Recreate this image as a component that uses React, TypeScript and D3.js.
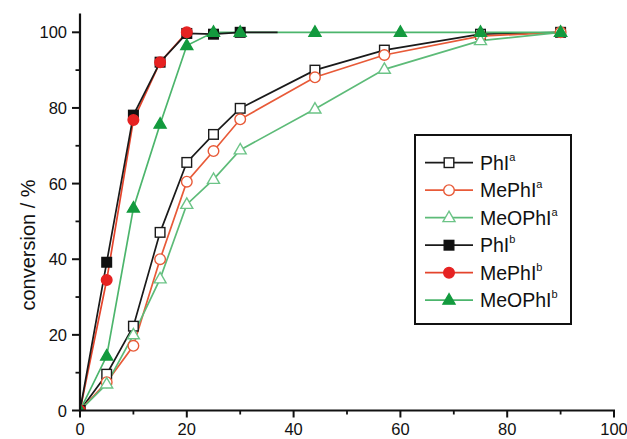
import React from "react";
import * as d3 from "d3";

const xA = [0, 5, 10, 15, 20, 25, 30, 44, 57, 75, 90];
const phlA = [0, 9.6, 22.3, 47.1, 65.6, 73, 79.9, 90, 95.3, 99.5, 100];
const mephlA = [0, 7.5, 17.1, 40, 60.5, 68.6, 77, 88.1, 94, 99, 100];
const meophlA = [0, 7, 20, 34.8, 54.5, 61.1, 68.9, 79.7, 90.2, 97.8, 100];

const xPhlB = [0, 5, 10, 15, 20, 25, 30, 37];
const phlB = [0, 39.2, 78.1, 92.1, 99.7, 99.5, 100, 100];
const xMephlB = [0, 5, 10, 15, 20];
const mephlB = [0, 34.5, 76.8, 92.1, 100];
const xMeophlB = [0, 5, 10, 15, 20, 25, 30, 44, 60, 75, 90];
const meophlB = [0, 14.4, 53.5, 75.7, 96.5, 100, 100, 100, 100, 100, 100];

const xMajor = [0, 20, 40, 60, 80, 100];
const xMinor = [10, 30, 50, 70, 90];
const yMajor = [0, 20, 40, 60, 80, 100];
const yMinor = [10, 30, 50, 70, 90];

type Series = {
  name: string;
  sup: string;
  xs: number[];
  ys: number[];
  line: string;
  marker: "square" | "circle" | "triangle";
  fill: string;
  stroke: string;
  markerCount: number;
};

const series: Series[] = [
  { name: "PhI", sup: "a", xs: xA, ys: phlA, line: "#1a1a1a", marker: "square", fill: "#fff", stroke: "#1a1a1a", markerCount: xA.length },
  { name: "MePhI", sup: "a", xs: xA, ys: mephlA, line: "#e85a38", marker: "circle", fill: "#fff", stroke: "#e85a38", markerCount: xA.length },
  { name: "MeOPhI", sup: "a", xs: xA, ys: meophlA, line: "#5dbb78", marker: "triangle", fill: "#fff", stroke: "#6cc487", markerCount: xA.length },
  { name: "PhI", sup: "b", xs: xPhlB, ys: phlB, line: "#1a1a1a", marker: "square", fill: "#111", stroke: "#111", markerCount: xPhlB.length - 1 },
  { name: "MePhI", sup: "b", xs: xMephlB, ys: mephlB, line: "#e4442c", marker: "circle", fill: "#e62222", stroke: "#e62222", markerCount: xMephlB.length },
  { name: "MeOPhI", sup: "b", xs: xMeophlB, ys: meophlB, line: "#4cb56c", marker: "triangle", fill: "#139a3e", stroke: "#139a3e", markerCount: xMeophlB.length },
];

const lineOrder = [0, 1, 2, 5, 4, 3];
const markerOrder = [0, 1, 2, 3, 4, 5];

const W = 627;
const H = 439;
const x = d3.scaleLinear().domain([0, 100]).range([80, 614]);
const y = d3.scaleLinear().domain([0, 105]).range([410.5, 13.4]);
const FONT = "'Liberation Sans', Arial, Helvetica, sans-serif";

function Marker({ kind, cx, cy, fill, stroke }: { kind: string; cx: number; cy: number; fill: string; stroke: string }) {
  if (kind === "square") {
    return <rect x={cx - 4.8} y={cy - 4.8} width={9.6} height={9.6} fill={fill} stroke={stroke} strokeWidth={1.4} />;
  }
  if (kind === "circle") {
    return <circle cx={cx} cy={cy} r={5.3} fill={fill} stroke={stroke} strokeWidth={1.4} />;
  }
  const s = 12;
  const h = s * 0.866;
  const p = `${cx},${cy - h * 0.62} ${cx - s / 2},${cy + h * 0.38} ${cx + s / 2},${cy + h * 0.38}`;
  return <polygon points={p} fill={fill} stroke={stroke} strokeWidth={1.4} />;
}

export default function App() {
  const lineGen = d3
    .line<[number, number]>()
    .x((d) => x(d[0]))
    .y((d) => y(d[1]));

  const legendX = 415;
  const legendY = 135;
  const legendW = 156;
  const legendH = 189;
  const rowY0 = 162.7;
  const rowStep = 27.5;

  return (
    <svg width={W} height={H} style={{ position: "absolute", left: 0, top: 0, background: "#fff" }} fontFamily={FONT}>
      <defs>
        <clipPath id="plotClip">
          <rect x={x(0)} y={0} width={x(100) - x(0) + 10} height={y(0)} />
        </clipPath>
      </defs>
      <rect x={0} y={0} width={W} height={H} fill="#fff" />
      <g clipPath="url(#plotClip)">
        {lineOrder.map((i) => {
          const s = series[i];
          const pts = s.xs.map((xv, k) => [xv, s.ys[k]] as [number, number]);
          return <path key={"l" + i} d={lineGen(pts) || ""} fill="none" stroke={s.line} strokeWidth={1.7} />;
        })}
        {markerOrder.map((i) => {
          const s = series[i];
          return (
            <g key={"m" + i}>
              {s.xs.slice(0, s.markerCount).map((xv, k) => (
                <Marker key={k} kind={s.marker} cx={x(xv)} cy={y(s.ys[k])} fill={s.fill} stroke={s.stroke} />
              ))}
            </g>
          );
        })}
      </g>
      {/* axes */}
      <line x1={x(0)} y1={y(0)} x2={x(100) + 1} y2={y(0)} stroke="#111" strokeWidth={2.2} />
      <line x1={x(0)} y1={y(0) + 1} x2={x(0)} y2={y(105)} stroke="#111" strokeWidth={2.2} />
      {xMajor.map((v) => (
        <g key={"xm" + v}>
          <line x1={x(v)} x2={x(v)} y1={y(0)} y2={y(0) + 7} stroke="#111" strokeWidth={2} />
          <text x={x(v)} y={435} fontSize={16.5} textAnchor="middle" fill="#111">{v}</text>
        </g>
      ))}
      {xMinor.map((v) => (
        <line key={"xn" + v} x1={x(v)} x2={x(v)} y1={y(0)} y2={y(0) + 4} stroke="#111" strokeWidth={1.8} />
      ))}
      {yMajor.map((v) => (
        <g key={"ym" + v}>
          <line x1={x(0)} x2={x(0) - 8} y1={y(v)} y2={y(v)} stroke="#111" strokeWidth={2} />
          <text x={67} y={y(v) + 6} fontSize={16.5} textAnchor="end" fill="#111">{v}</text>
        </g>
      ))}
      {yMinor.map((v) => (
        <line key={"yn" + v} x1={x(0)} x2={x(0) - 4.5} y1={y(v)} y2={y(v)} stroke="#111" strokeWidth={1.8} />
      ))}
      <text transform="translate(35,245) rotate(-90)" fontSize={20} textAnchor="middle" fill="#111">conversion / %</text>
      {/* legend */}
      <rect x={legendX} y={legendY} width={legendW} height={legendH} fill="#fff" stroke="#111" strokeWidth={2} />
      {series.map((s, i) => {
        const ry = rowY0 + i * rowStep;
        return (
          <g key={"lg" + i}>
            <line x1={425} x2={473} y1={ry} y2={ry} stroke={s.line} strokeWidth={1.7} />
            <Marker kind={s.marker} cx={449} cy={ry} fill={s.fill} stroke={s.stroke} />
            <text x={480} y={ry + 7} fontSize={19.5} fill="#111">
              {s.name}
              <tspan fontSize={11} dy={-9}>{s.sup}</tspan>
            </text>
          </g>
        );
      })}
    </svg>
  );
}
